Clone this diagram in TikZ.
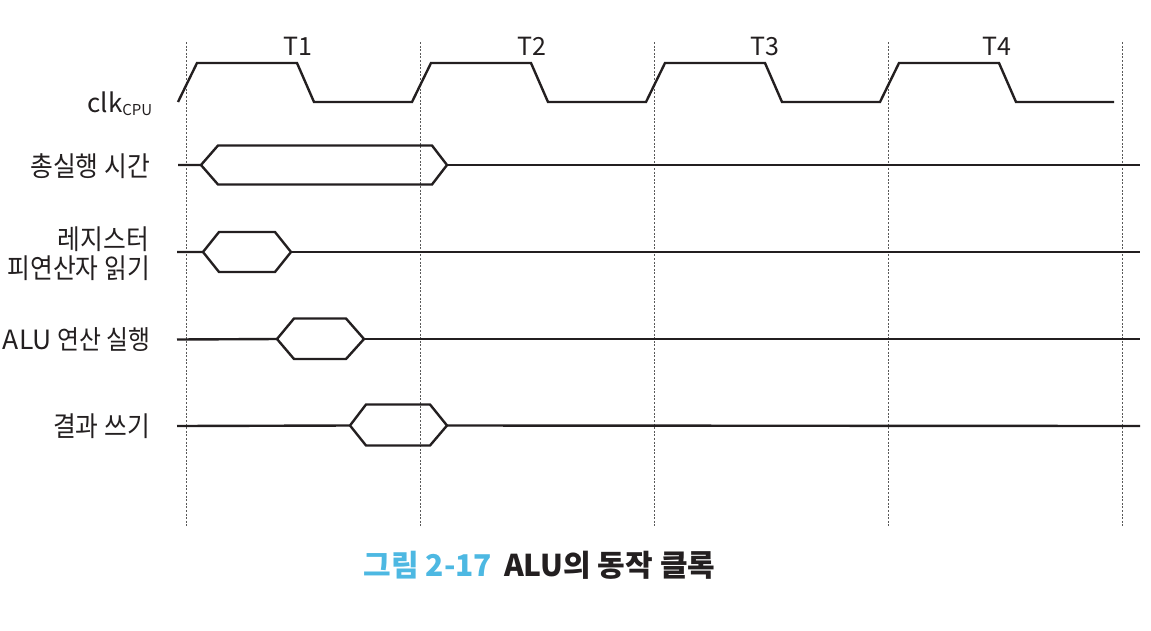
\documentclass[tikz,border=0pt]{standalone}
\usepackage{fontspec}
\setmainfont{Noto Sans CJK KR}
\newfontfamily\kr[FakeStretch=0.9]{Noto Sans CJK KR}
\definecolor{capblue}{HTML}{4DB8E2}
\definecolor{sig}{HTML}{231F20}
\begin{document}
\begin{tikzpicture}[x=1pt,y=-1pt,
  wave/.style={line width=2.4pt, color=sig, line join=miter},
  grid/.style={line width=0.7pt, color=black!65, dash pattern=on 2pt off 1.6pt},
  lbl/.style={anchor=east, inner sep=0pt, font=\fontsize{27.5}{30}\selectfont, text=sig},
  tlbl/.style={inner sep=0pt, font=\fontsize{25}{28}\selectfont, text=sig}]
\useasboundingbox (0,0) rectangle (1151,630);
% grid lines
\foreach \x/\n in {186.5/g0,420.5/g1,654.5/g2,888.5/g3,1122.5/g4}{
  \coordinate (\n t) at (\x,42);
  \coordinate (\n b) at (\x,527);
  \draw[grid] (\n t) -- (\n b);
}
% period labels
\node[tlbl] (T1) at (298,46) {T1};
\node[tlbl] (T2) at (532,46) {T2};
\node[tlbl] (T3) at (765,46) {T3};
\node[tlbl] (T4) at (997,46) {T4};
% clock
\draw[wave] (178,102) -- (197,63) -- (297,63) -- (314,102) -- (412,102)
  -- (431,63) -- (531,63) -- (548,102) -- (646,102)
  -- (665,63) -- (765,63) -- (782,102) -- (880,102)
  -- (899,63) -- (999,63) -- (1016,102) -- (1114,102);
% total exec
\draw[wave] (178,165) -- (201,165) -- (218,145.5) -- (432,145.5) -- (447,165) -- (432,184.5) -- (218,184.5) -- (201,165);
\draw[wave] (447,165) -- (1140,165);
% register read
\draw[wave] (177,252) -- (203,252) -- (219,232) -- (275,232) -- (291,252) -- (275,272) -- (219,272) -- (203,252);
\draw[wave] (291,252) -- (1140,252);
% ALU exec
\draw[wave] (177,339.5) -- (277,339) -- (294,318.5) -- (346,318.5) -- (364,339) -- (346,359) -- (294,359) -- (277,339);
\draw[wave] (364,339) -- (1140,339);
% write back
\draw[wave] (177,426) -- (350,425.5) -- (366,404.5) -- (430,404.5) -- (447,425.5) -- (430,445.5) -- (366,445.5) -- (350,425.5);
\draw[wave] (447,425.5) -- (1140,426);
% labels
\node[lbl, anchor=base east, font=\fontsize{26}{28}\selectfont] (clk) at (152.5,112) {clk{\fontsize{15}{15}\selectfont\raisebox{-3pt}{CPU}}};
\node[lbl] (tot) at (150,166) {\kr 총실행 시간};
\node[lbl] (reg1) at (149,239) {\kr 레지스터};
\node[lbl] (reg2) at (150,268) {\kr 피연산자 읽기};
\node[lbl, font=\fontsize{26.5}{30}\selectfont] (alu) at (151,340) {ALU {\kr 연산 실행}};
\node[lbl] (wb) at (150,426) {\kr 결과 쓰기};
% caption
\node[inner sep=0pt, font=\fontsize{30}{34}\selectfont\bfseries, text=sig] (cap) at (539.5,565)
  {{\color{capblue}그림 2-17}\hspace{12pt}ALU의 동작 클록};
\end{tikzpicture}
\end{document}
